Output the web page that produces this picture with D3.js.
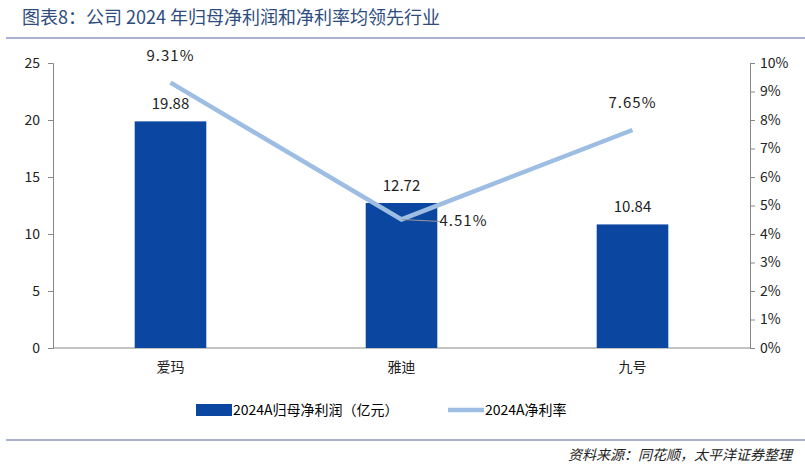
<!DOCTYPE html>
<html><head><meta charset="utf-8">
<script src="https://cdn.jsdelivr.net/npm/d3@7"></script>
<style>body{margin:0;background:#fff}text{font-family:"Noto Sans CJK SC",sans-serif}</style>
</head><body><svg id="c" width="805" height="467"></svg>
<script>
const companies = ["爱玛", "雅迪", "九号"];
const profit = [19.88, 12.72, 10.84];
const margin = [9.31, 4.51, 7.65];
const leftTicks = [0, 5, 10, 15, 20, 25];
const rightTicks = [0, 1, 2, 3, 4, 5, 6, 7, 8, 9, 10];

const svg = d3.select("#c");
svg.append("text").attr("x", 22).attr("y", 24).attr("fill", "#2e4c7e")
    .attr("font-size", 18)
    .text("图表8：公司 2024 年归母净利润和净利率均领先行业");
svg.append("line").attr("x1", 6).attr("x2", 805).attr("y1", 38).attr("y2", 38)
    .attr("stroke", "#8e97c2").attr("stroke-width", 1.5);
svg.append("line").attr("x1", 6).attr("x2", 805).attr("y1", 440).attr("y2", 440)
    .attr("stroke", "#8e97c2").attr("stroke-width", 1.5);
svg.append("text").attr("x", 792).attr("y", 460).attr("text-anchor", "end")
    .attr("font-size", 14).attr("font-style", "italic").attr("fill", "#222")
    .text("资料来源：同花顺，太平洋证券整理");

const x = d3.scaleBand().domain(companies).range([55, 748]).paddingInner(0.69).paddingOuter(0.345);
const yL = d3.scaleLinear().domain([0, 25]).range([348, 63]);
const yR = d3.scaleLinear().domain([0, 10]).range([348, 63]);

const gl = svg.append("g").attr("transform", "translate(53,0)")
    .call(d3.axisLeft(yL).tickValues(leftTicks).tickSize(5).tickPadding(8));
const gr = svg.append("g").attr("transform", "translate(750,0)")
    .call(d3.axisRight(yR).tickValues(rightTicks).tickFormat(d => d + "%").tickSize(5).tickPadding(5));
const gx = svg.append("g").attr("transform", "translate(0,348)")
    .call(d3.axisBottom(x).tickSize(0).tickPadding(14));
gx.select(".domain").attr("d", "M53,0H750");
for (const g of [gl, gr, gx]) {
    g.selectAll("path,line").attr("stroke", "#888");
    g.selectAll("text").attr("font-size", 14).attr("fill", "#222")
        .style("font-family", "'Noto Sans CJK SC',sans-serif");
}

svg.selectAll("rect.bar").data(profit).join("rect").attr("class", "bar")
    .attr("x", (d, i) => x(companies[i])).attr("width", x.bandwidth())
    .attr("y", d => yL(d)).attr("height", d => yL(0) - yL(d)).attr("fill", "#0b46a0");
svg.selectAll("text.bl").data(profit).join("text").attr("class", "bl")
    .attr("x", (d, i) => x(companies[i]) + x.bandwidth() / 2).attr("y", d => yL(d) - 12)
    .attr("text-anchor", "middle").attr("font-size", 15).attr("fill", "#222")
    .text(d => d.toFixed(2));

const cx = i => x(companies[i]) + x.bandwidth() / 2;
svg.append("path").datum(margin)
    .attr("d", d3.line().x((d, i) => cx(i)).y(d => yR(d)))
    .attr("fill", "none").attr("stroke", "#9dbde3").attr("stroke-width", 4.5);
// leader line for the middle label
svg.append("line").attr("x1", cx(1)).attr("y1", yR(margin[1]))
    .attr("x2", cx(1) + 38).attr("y2", yR(margin[1]) + 2).attr("stroke", "#999");
const off = [[0, -22], [62, 7], [0, -22]];
svg.selectAll("text.ml").data(margin).join("text").attr("class", "ml")
    .attr("x", (d, i) => cx(i) + off[i][0]).attr("y", (d, i) => yR(d) + off[i][1])
    .attr("text-anchor", "middle").attr("font-size", 15).attr("fill", "#222")
    .attr("letter-spacing", 1)
    .text(d => d.toFixed(2) + "%");

const lg = svg.append("g").attr("transform", "translate(196,410)");
lg.append("rect").attr("x", 0).attr("y", -6).attr("width", 36).attr("height", 12).attr("fill", "#0b46a0");
lg.append("text").attr("x", 37).attr("y", 5).attr("font-size", 14).text("2024A归母净利润（亿元）");
lg.append("line").attr("x1", 252).attr("x2", 288).attr("y1", 0).attr("y2", 0)
    .attr("stroke", "#9dbde3").attr("stroke-width", 4.5);
lg.append("text").attr("x", 289).attr("y", 5).attr("font-size", 14).text("2024A净利率");
</script></body></html>
